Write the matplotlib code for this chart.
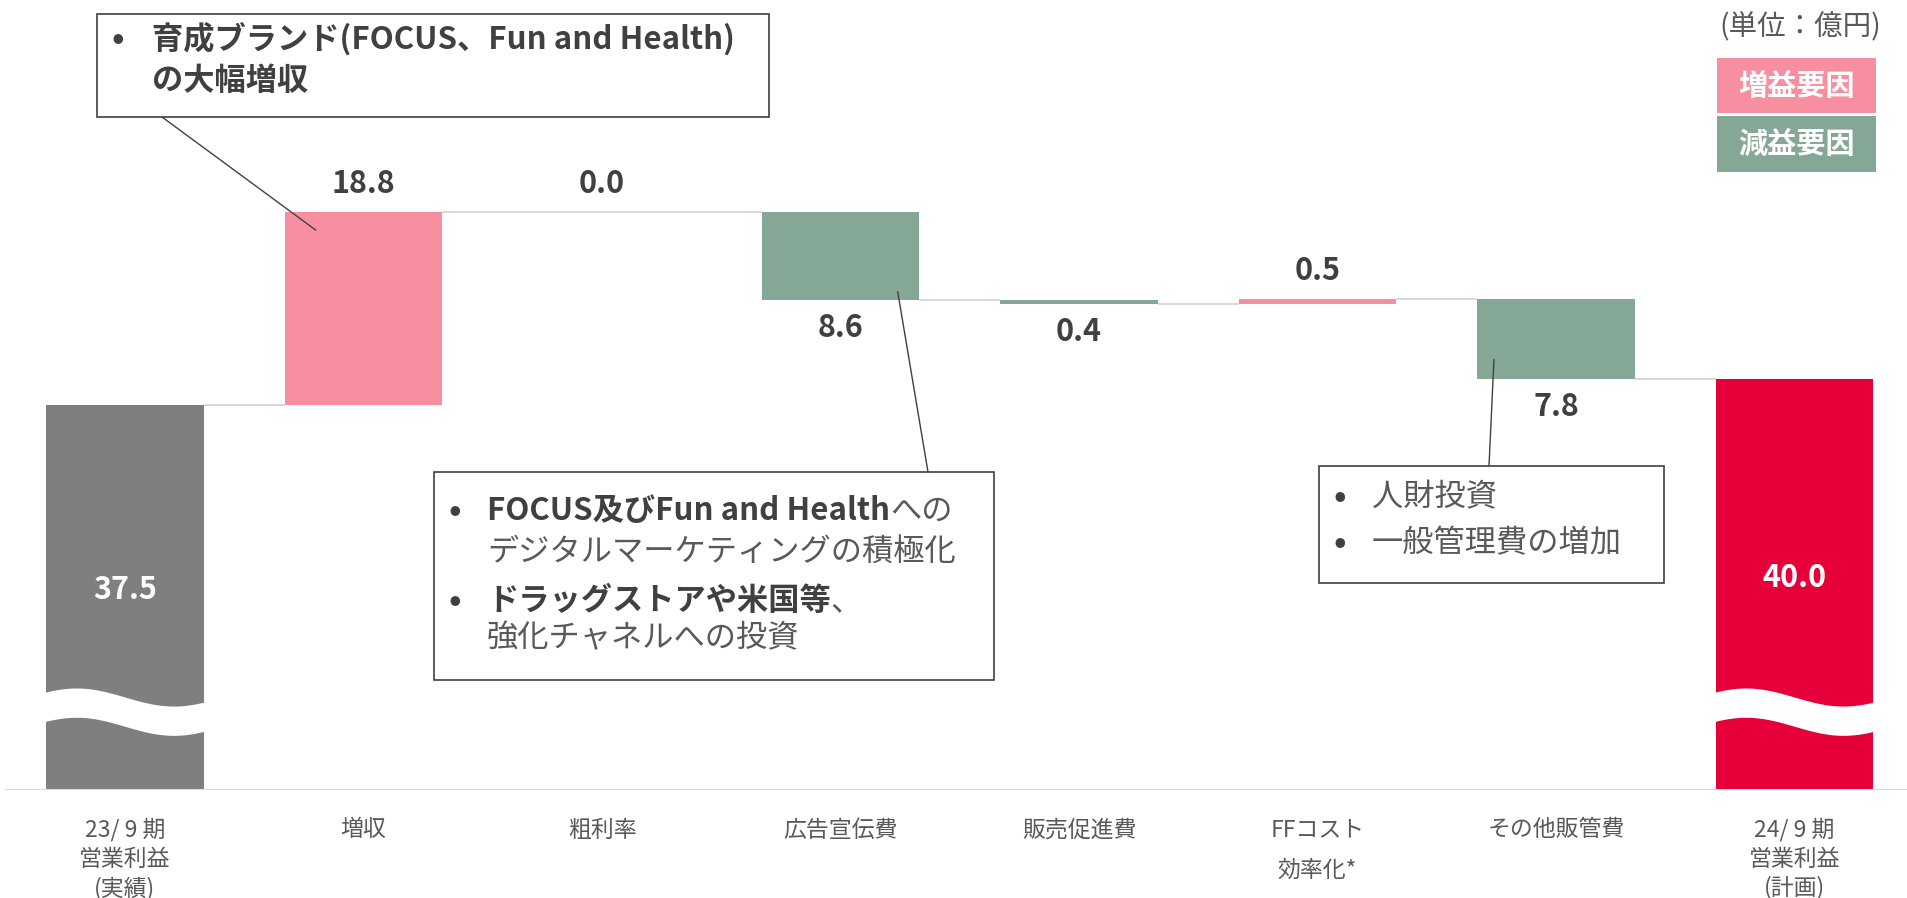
import matplotlib

matplotlib.use("Agg")
import matplotlib.pyplot as plt
import numpy as np
from matplotlib.patches import Rectangle

# data (億円)
CATEGORIES = [
    ["23/ 9 期", "営業利益", "(実績)"],
    ["増収"],
    ["粗利率"],
    ["広告宣伝費"],
    ["販売促進費"],
    ["FFコスト", "効率化*"],
    ["その他販管費"],
    ["24/ 9 期", "営業利益", "(計画)"],
]
VALUES = [37.5, 18.8, 0.0, -8.6, -0.4, 0.5, -7.8, 40.0]
IS_TOTAL = [True, False, False, False, False, False, False, True]

GRAY = "#7F7F7F"
RED = "#E6003A"
PINK = "#F78FA1"
GREEN = "#84A796"
LINE = "#D9D9D9"
INK = "#404040"
INK_2 = "#595959"

W, H = 1908, 898
plt.rcParams["font.family"] = ["Noto Sans CJK JP", "DejaVu Sans"]


def fpx(x, y):
    """figure pixel (from top-left) -> figure fraction"""
    return x / W, 1 - y / H


fig = plt.figure(figsize=(W / 100, H / 100), dpi=100)
ax = fig.add_axes([5 / W, 108 / H, 1903 / W, 790 / H])
ax.set_xlim(-0.503, 7.476)
ax.set_ylim(0, 76.9)
ax.axis("off")

BAR_W = 0.66
x = np.arange(len(VALUES))

# waterfall geometry
bottoms, heights, levels, colors = [], [], [], []
run = 0.0
for i, (v, tot) in enumerate(zip(VALUES, IS_TOTAL)):
    if tot:
        bottoms.append(0.0)
        heights.append(v)
        run = v
        colors.append(GRAY if i == 0 else RED)
    else:
        bottoms.append(run if v >= 0 else run + v)
        heights.append(abs(v))
        run += v
        colors.append(PINK if v > 0 else GREEN)
    levels.append(run)

ax.bar(x, heights, bottom=bottoms, width=BAR_W, color=colors, zorder=3)

# connectors (a zero change is drawn as a flat line across its slot)
for i in range(len(VALUES) - 1):
    ax.plot([x[i] + BAR_W / 2, x[i + 1] - BAR_W / 2], [levels[i], levels[i]],
            color=LINE, lw=1.5, zorder=2, solid_capstyle="butt")
for i, h in enumerate(heights):
    if h == 0:
        ax.plot([x[i] - BAR_W / 2, x[i] + BAR_W / 2], [bottoms[i], bottoms[i]],
                color=LINE, lw=1.5, zorder=2, solid_capstyle="butt")

# baseline
ax.axhline(0, color=LINE, lw=1.5, zorder=4)

# decorative wave break on the two total bars
t = np.linspace(0, 1, 60)
wave = 0.88 * np.cos(2 * np.pi * (t - 0.2) / 1.2)
for i in np.where(IS_TOTAL)[0]:
    xs = x[i] - BAR_W / 2 - 0.01 + t * (BAR_W + 0.02)
    ax.fill_between(xs, 6.2 + wave, 9.05 + wave, color="white", lw=0, zorder=5)

# value labels
for i, (v, tot) in enumerate(zip(VALUES, IS_TOTAL)):
    if tot:
        ax.annotate(f"{v:.1f}", xy=(x[i], heights[i] / 2), xytext=(0, 5),
                    textcoords="offset points", ha="center", va="center",
                    fontsize=22, fontweight="bold", color="white", zorder=6)
    elif v >= 0:
        ax.annotate(f"{abs(v):.1f}", xy=(x[i], bottoms[i] + heights[i]), xytext=(0, 20),
                    textcoords="offset points", ha="center", va="center",
                    fontsize=22, fontweight="bold", color=INK)
    else:
        ax.annotate(f"{abs(v):.1f}", xy=(x[i], bottoms[i]), xytext=(0, -20),
                    textcoords="offset points", ha="center", va="center",
                    fontsize=22, fontweight="bold", color=INK)

# category labels
for i, lines in enumerate(CATEGORIES):
    step = 29 if len(lines) > 2 else 40
    for k, s in enumerate(lines):
        ax.annotate(s, xy=(x[i], 0), xytext=(0, -(40 + k * step) * 0.72),
                    textcoords="offset points", ha="center", va="center",
                    fontsize=16.5, color=INK_2, annotation_clip=False)


# annotation boxes
def box(x0, y0, x1, y1):
    (fx0, fy1), (fx1, fy0) = fpx(x0, y0), fpx(x1, y1)
    fig.patches.append(Rectangle((fx0, fy0), fx1 - fx0, fy1 - fy0, transform=fig.transFigure,
                                 fill=False, ec=INK, lw=1.2, zorder=10))


def line_text(xp, yp, parts, size=22.5):
    """parts: list of (text, bold) drawn one after the other"""
    prev = None
    for s, bold in parts:
        kw = dict(fontsize=size, fontweight="bold" if bold else "normal",
                  color=INK if bold else INK_2)
        if prev is None:
            prev = fig.text(*fpx(xp, yp), s, ha="left", va="center", **kw)
        else:
            prev = ax.annotate(s, xy=(1, 0), xycoords=prev, ha="left", va="bottom",
                               annotation_clip=False, **kw)


def bullet(xp, yp):
    fig.text(*fpx(xp, yp), "•", ha="center", va="center", fontsize=24,
             fontweight="bold", color=INK)


def leader(xp, yp, xy):
    ax.annotate("", xy=xy, xytext=fpx(xp, yp), textcoords="figure fraction",
                arrowprops=dict(arrowstyle="-", color=INK, lw=1.0, shrinkA=0, shrinkB=0),
                annotation_clip=False)


box(97, 14, 769, 117)
bullet(118, 39)
line_text(152, 39, [("育成ブランド(FOCUS、Fun and Health)", True)])
line_text(152, 81, [("の大幅増収", True)])
leader(162, 117, (x[1] - 0.20, 54.5))

box(434, 472, 994, 680)
bullet(455, 511)
line_text(487, 511, [("FOCUS及びFun and Health", True), ("への", False)])
line_text(487, 552, [("デジタルマーケティングの積極化", False)])
bullet(455, 601)
line_text(487, 601, [("ドラッグストアや米国等", True), ("、", False)])
line_text(487, 638, [("強化チャネルへの投資", False)])
leader(928, 472, (x[3] + 0.24, 48.5))

box(1319, 466, 1664, 583)
bullet(1340, 497)
line_text(1372, 497, [("人財投資", False)])
bullet(1340, 543)
line_text(1372, 543, [("一般管理費の増加", False)])
leader(1489, 466, (x[6] - 0.26, 41.9))

# unit + legend
fig.text(*fpx(1881, 27), "(単位：億円)", ha="right", va="center", fontsize=20.5, color=INK_2)
for (y0, y1), c, s in [((58, 113), PINK, "増益要因"), ((116, 172), GREEN, "減益要因")]:
    (fx0, fy1), (fx1, fy0) = fpx(1717, y0), fpx(1876, y1)
    fig.patches.append(Rectangle((fx0, fy0), fx1 - fx0, fy1 - fy0, transform=fig.transFigure,
                                 color=c, lw=0))
    fig.text(*fpx(1796.5, (y0 + y1) / 2), s, ha="center", va="center", fontsize=21,
             fontweight="bold", color="white")

fig.savefig("out.png", dpi=100)
